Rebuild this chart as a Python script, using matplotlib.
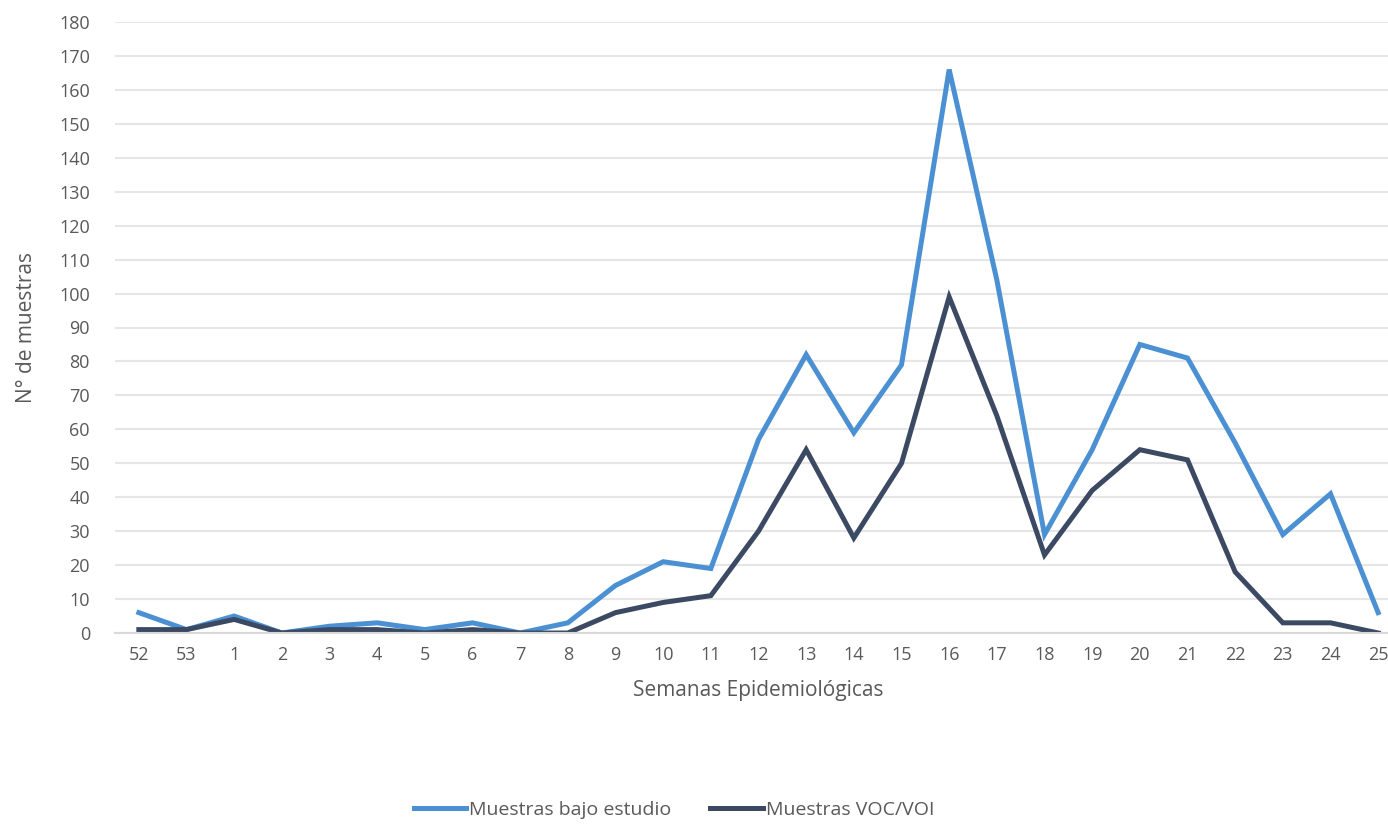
import matplotlib
matplotlib.use("Agg")
from matplotlib import pyplot as plt
import numpy as np

semanas = ["52", "53", "1", "2", "3", "4", "5", "6", "7", "8", "9", "10", "11", "12",
           "13", "14", "15", "16", "17", "18", "19", "20", "21", "22", "23", "24", "25"]
bajo_estudio = [6, 1, 5, 0, 2, 3, 1, 3, 0, 3, 14, 21, 19, 57, 82, 59, 79, 166, 104,
                29, 54, 85, 81, 56, 29, 41, 6]
voc_voi = [1, 1, 4, 0, 1, 1, 0, 1, 0, 0, 6, 9, 11, 30, 54, 28, 50, 99, 64,
           23, 42, 54, 51, 18, 3, 3, 0]

plt.rcParams['font.family'] = ['Open Sans', 'DejaVu Sans']
gris = '#595959'

fig = plt.figure(figsize=(13.88, 8.25), dpi=100)
ax = fig.add_axes([115/1388, 1-633/825, (1380+22-115)/1388, (633-22)/825])

x = np.arange(len(semanas))
ax.plot(x, bajo_estudio, color='#4A90D2', lw=3.6, solid_joinstyle='miter', label='Muestras bajo estudio')
ax.plot(x, voc_voi, color='#3B4A62', lw=3.6, solid_joinstyle='miter', label='Muestras VOC/VOI')

ax.set_xlim(-0.5, len(semanas) - 0.5)
ax.set_ylim(0, 180)
ax.set_yticks(np.arange(0, 181, 10))
ax.set_xticks(x)
ax.set_xticklabels(semanas)
ax.grid(axis='y', color='#E6E6E6', lw=1.5)
ax.set_axisbelow(True)
for s in ['top', 'right', 'left']:
    ax.spines[s].set_visible(False)
ax.spines['bottom'].set_color('#D9D9D9')
ax.spines['bottom'].set_linewidth(1.5)
ax.tick_params(axis='both', length=0, labelsize=13, labelcolor=gris)
ax.tick_params(axis='y', pad=18)
ax.tick_params(axis='x', pad=9)

ax.set_ylabel('N° de muestras', fontsize=15, color=gris, labelpad=16)
ax.set_xlabel('Semanas Epidemiológicas', fontsize=15, color=gris, labelpad=12)

fig.legend(loc='center', bbox_to_anchor=(674/1388, 1-810/825), ncol=2, frameon=False,
           fontsize=14, labelcolor=gris, handlelength=2.7, handletextpad=0.15, columnspacing=2.0)

fig.savefig('out.png', dpi=100)
